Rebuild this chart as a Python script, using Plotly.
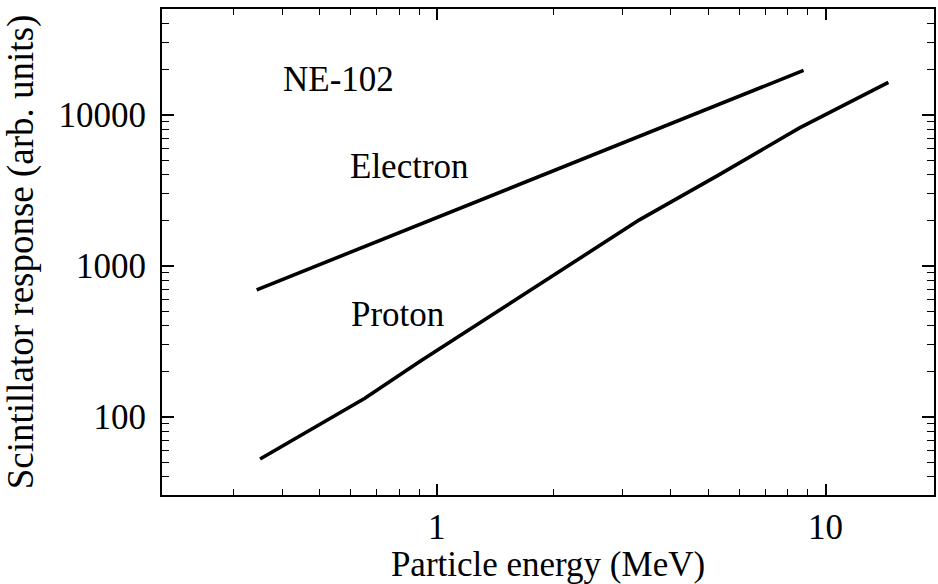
import numpy as np
import plotly.graph_objects as go

# Data (energy in MeV, response in arb. units)
electron_energy = [0.344, 0.5, 1.0, 2.0, 3.0, 5.0, 8.78]
electron_response = [692, 1018, 2084, 4266, 6490, 11000, 19670]

proton_energy = [0.351, 0.653, 0.904, 1.733, 3.32, 5.33, 8.55, 14.51]
proton_response = [52.4, 132.4, 231.6, 682, 2014, 4013, 8161, 16375]

x_major = [1, 10]
x_major_text = ["1", "10"]
x_minor = [0.3, 0.4, 0.5, 0.6, 0.7, 0.8, 0.9, 2, 3, 4, 5, 6, 7, 8, 9]
y_major = [100, 1000, 10000]
y_major_text = ["100", "1000", "10000"]
y_minor = [40, 50, 60, 70, 80, 90, 200, 300, 400, 500, 600, 700, 800, 900,
           2000, 3000, 4000, 5000, 6000, 7000, 8000, 9000, 20000, 30000, 40000]

labels = ["NE-102", "Electron", "Proton"]
label_x = [0.557, 0.851, 0.792]
label_y = [17250, 4520, 475]

FONT = "Liberation Serif"

fig = go.Figure()
fig.add_trace(go.Scatter(x=electron_energy, y=electron_response, mode="lines",
                         line=dict(color="black", width=3.6), name="Electron"))
fig.add_trace(go.Scatter(x=proton_energy, y=proton_response, mode="lines",
                         line=dict(color="black", width=3.6), name="Proton"))

for t, xv, yv in zip(labels, label_x, label_y):
    fig.add_annotation(x=np.log10(xv), y=np.log10(yv), text=t, showarrow=False,
                       xanchor="center", yanchor="middle",
                       font=dict(family=FONT, size=35, color="black"))

axis_common = dict(showgrid=False, zeroline=False, showline=True, linecolor="black",
                   linewidth=2, mirror="allticks", ticks="inside", tickcolor="black",
                   tickwidth=1.5, tickfont=dict(family=FONT, size=35, color="black"))

fig.update_xaxes(type="log", range=[-0.707, 1.279], tickmode="array",
                 tickvals=x_major, ticktext=x_major_text, ticklen=11,
                 ticklabelstandoff=0,
                 minor=dict(tickmode="array", tickvals=x_minor, ticks="inside",
                            ticklen=6, tickcolor="black", tickwidth=1.2, showgrid=False),
                 title=dict(text="Particle energy (MeV)", standoff=3,
                            font=dict(family=FONT, size=35, color="black")),
                 **axis_common)
fig.update_yaxes(type="log", range=[1.481, 4.7007], tickmode="array",
                 tickvals=y_major, ticktext=y_major_text, ticklen=12,
                 ticklabelstandoff=7,
                 minor=dict(tickmode="array", tickvals=y_minor, ticks="inside",
                            ticklen=7, tickcolor="black", tickwidth=1.2, showgrid=False),
                 title=dict(text="Scintillator response (arb. units)", standoff=16,
                            font=dict(family=FONT, size=37, color="black")),
                 **axis_common)

fig.update_layout(width=938, height=584, margin=dict(l=162, r=2, t=9, b=89),
                  paper_bgcolor="white", plot_bgcolor="white", showlegend=False)

fig.write_html("out.html")
